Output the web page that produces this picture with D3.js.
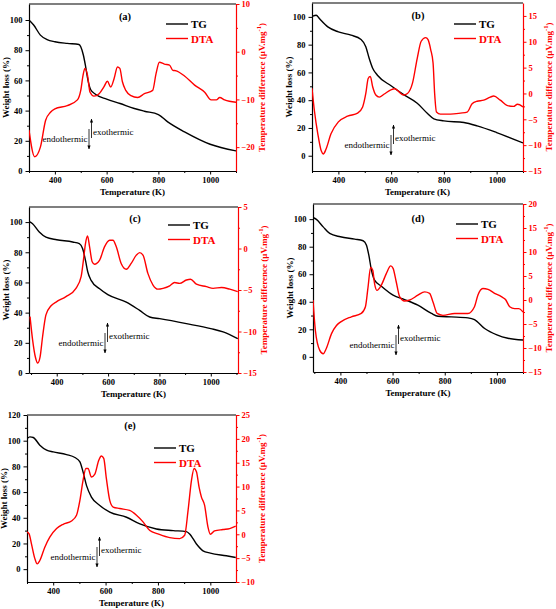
<!DOCTYPE html>
<html>
<head>
<meta charset="utf-8">
<script src="https://cdn.jsdelivr.net/npm/d3@7"></script>
<style>
  body { margin: 0; background: #fff; }
  svg { display: block; }
  text { font-family: "Liberation Serif", "Times New Roman", serif; }
</style>
</head>
<body>
<div id="chart"></div>
<script>
// tick values
const xTicks = [400, 600, 800, 1000];
const wTicks = [0, 20, 40, 60, 80, 100];
const wTicksE = [0, 20, 40, 60, 80, 100, 120];
const dtaTicksA = [-20, -10, 0, 10];
const dtaTicksB = [-15, -10, -5, 0, 5, 10, 15];
const dtaTicksC = [-15, -10, -5, 0, 5];
const dtaTicksD = [-15, -10, -5, 0, 5, 10, 15, 20];
const dtaTicksE = [-10, -5, 0, 5, 10, 15, 20, 25];

// [temperature K, weight loss %]
const tgA = [[300,100],[318,96.7],[344,90],[370,87],[400,85.6],[448,84.5],[493,83.8],[500,82.3],[510,76.8],[519,69],[528,60],[538,54],[558,50.7],[600,47.6],[652,44.7],[707,41.4],[746,39.6],[800,37.4],[836,32.5],[901,25.9],[1000,17.7],[1100,13.3]];
const tgB = [[303,100.5],[316,101.2],[328,98.8],[360,92.8],[400,89.2],[448,86.8],[486,83.7],[504,78.5],[517,70],[530,63],[548,58],[601,50.2],[649,43.8],[699,37.8],[737,30.6],[762,26.6],[800,25.1],[876,23.9],[926,21.5],[1000,16.7],[1100,9.2]];
const tgC = [[292,100.4],[306,98.9],[332,93.4],[358,90],[400,88.3],[462,86.8],[488,85.7],[501,82.3],[512,74.6],[521,66.9],[534,61.4],[567,55.8],[599,51.9],[671,47],[723,41.5],[762,37.1],[801,36],[905,32.7],[1000,29.4],[1048,27.2],[1105,22.7]];
const tgD = [[295,101.2],[308,99.8],[334,94.4],[359,89.6],[400,87.2],[455,85.5],[487,84.3],[500,81.1],[509,73.8],[519,63],[531,55.7],[557,51.3],[602,44.8],[646,41.6],[697,37.5],[749,31.5],[774,29.5],[825,29],[889,28.3],[914,27.1],[953,20.6],[1000,16],[1042,13.5],[1100,12.2]];
const tgE = [[301,101.7],[311,103],[324,102.5],[349,96.5],[375,92.6],[400,91.3],[451,89.2],[483,86.9],[502,83.5],[514,75.7],[527,65.2],[546,56.1],[578,49.6],[616,44.4],[680,40.4],[731,35.2],[794,31.3],[858,30],[908,29.2],[921,27.4],[947,19.6],[972,14.3],[1000,12.5],[1061,10.4],[1097,9.1]];

// [temperature K, temperature difference uV/mg]
const dtaA = [[300,-16.4],[322,-22],[344,-20],[364,-14.4],[383,-12.7],[400,-12],[448,-11.3],[487,-10.1],[500,-8.1],[509,-4.9],[516,-3.5],[526,-4.9],[536,-8.5],[551,-9.3],[571,-8.8],[590,-7.3],[603,-6.2],[616,-7.4],[629,-5.6],[642,-3.2],[651,-3.5],[661,-6.3],[674,-8.1],[694,-9.2],[720,-9.6],[746,-8.8],[778,-8.1],[791,-4.6],[804,-2.2],[823,-2.6],[843,-2.8],[856,-3.9],[869,-4.0],[901,-5.1],[940,-7],[979,-8.5],[1004,-10.1],[1024,-10.1],[1037,-9.6],[1056,-10.1],[1100,-10.6]];
const dtaB = [[300,1],[309,-3.3],[322,-7.8],[335,-11.1],[343,-11.7],[353,-10.8],[372,-7.8],[400,-5.5],[435,-4.4],[473,-3.8],[492,-2.6],[504,0],[513,2.9],[521,3.3],[530,1.3],[542,-0.3],[555,-0.7],[574,-0.1],[599,0.7],[614,0.9],[630,0.3],[647,-0.3],[662,0],[681,2],[699,6.8],[714,10.1],[731,10.8],[740,10.4],[750,8.5],[759,5.9],[765,0],[772,-3.6],[787,-4],[825,-4],[863,-3.8],[888,-3.6],[907,-2],[926,-1.5],[951,-1.3],[976,-0.7],[989,-0.5],[1014,-1.3],[1039,-2.3],[1064,-2.5],[1079,-2.1],[1100,-2.6]];
const dtaC = [[296,-8.2],[306,-11],[317,-13.1],[326,-13.8],[335,-13.1],[345,-10.6],[358,-8],[378,-6.9],[400,-6.4],[436,-5.8],[475,-4.8],[495,-3.4],[504,-1.4],[512,0.6],[520,1.5],[528,0.2],[538,-1.6],[547,-1.9],[567,-1.4],[586,0.2],[606,1.0],[619,1.0],[632,0.2],[651,-1.8],[671,-2.5],[690,-1.8],[710,-0.8],[723,-0.5],[736,-0.8],[755,-3],[775,-4.4],[794,-4.9],[814,-4.8],[840,-4.5],[859,-4.1],[879,-4.2],[905,-3.8],[921,-3.7],[944,-4.3],[983,-4.6],[1009,-4.8],[1042,-4.7],[1074,-4.9],[1105,-5.2]];
const dtaD = [[295,0],[304,-6.3],[321,-10.5],[334,-11.2],[346,-10.1],[366,-7],[385,-5.3],[400,-4.6],[442,-3.5],[480,-2.8],[496,-1.4],[506,2.7],[516,6.8],[524,6.2],[531,3.4],[540,2],[557,3.1],[576,5.5],[593,7.1],[602,6.6],[614,3.8],[627,0.7],[646,-0.2],[666,0],[697,1],[723,1.7],[742,1.4],[755,-0.4],[771,-2.8],[793,-3.2],[838,-2.8],[889,-2.8],[914,-1.4],[927,1],[946,2.4],[966,2.2],[991,1.4],[1017,0.7],[1033,0.1],[1049,-1.4],[1068,-1.8],[1084,-1.8],[1100,-2.5]];
const dtaE = [[300,0.5],[308,0.1],[317,-2],[330,-5.1],[339,-6.2],[349,-5.5],[368,-2.7],[387,-0.6],[413,1.2],[438,2.1],[470,2.8],[489,4],[502,7.1],[514,11.3],[525,13.8],[533,13.8],[546,12],[559,12.6],[574,15.5],[584,16.4],[593,15.9],[603,11.7],[616,7.1],[629,5.7],[654,5.4],[692,5],[718,4],[743,2.6],[769,0.8],[800,0.1],[845,-0.7],[883,-0.9],[902,-0.2],[915,5],[928,11.3],[938,13.8],[947,13.1],[957,9.9],[966,7.8],[978,6.1],[991,1.5],[1000,0],[1016,0.7],[1048,1],[1074,1.2],[1097,1.7]];

const panels = [
  { label: "(a)", tg: tgA, dta: dtaA, box: { l: 29, r: 236, t: 4, b: 171 }, xDom: [300, 1100], yDom: [0, 110.6], y2Dom: [-25, 10], yTicks: wTicks, y2Ticks: dtaTicksA, y2Minor: 5, title: [96, 12], legend: [137, 20], ann: [60, 115] },
  { label: "(b)", tg: tgB, dta: dtaB, box: { l: 312, r: 523, t: 3, b: 171 }, xDom: [300, 1100], yDom: [-11, 110], y2Dom: [-15, 17.5], yTicks: wTicks, y2Ticks: dtaTicksB, y2Minor: 2.5, title: [106, 12], legend: [142, 21], ann: [79, 122] },
  { label: "(c)", tg: tgC, dta: dtaC, box: { l: 29, r: 238, t: 207, b: 373 }, xDom: [292, 1106], yDom: [0, 110], y2Dom: [-15, 5], yTicks: wTicks, y2Ticks: dtaTicksC, y2Minor: 2.5, title: [106, 11], legend: [139, 18], ann: [76, 116] },
  { label: "(d)", tg: tgD, dta: dtaD, box: { l: 313, r: 523, t: 204, b: 372 }, xDom: [295, 1100], yDom: [-11, 111], y2Dom: [-15, 20], yTicks: wTicks, y2Ticks: dtaTicksD, y2Minor: 2.5, title: [105, 14], legend: [143, 20], ann: [83, 121] },
  { label: "(e)", tg: tgE, dta: dtaE, box: { l: 27, r: 236, t: 415, b: 582 }, xDom: [300, 1098], yDom: [-10, 120], y2Dom: [-10, 25], yTicks: wTicksE, y2Ticks: dtaTicksE, y2Minor: 2.5, title: [103, 10], legend: [127, 33], ann: [70, 122] }
];

const W = 556, H = 609;
const svg = d3.select("#chart").append("svg")
  .attr("width", W)
  .attr("height", H)
  .attr("viewBox", `0 0 ${W} ${H}`);

const defs = svg.append("defs");
defs.append("marker")
  .attr("id", "arrow")
  .attr("viewBox", "0 0 10 10")
  .attr("refX", 9).attr("refY", 5)
  .attr("markerWidth", 5).attr("markerHeight", 5)
  .attr("orient", "auto")
  .append("path")
  .attr("d", "M0,1 L10,5 L0,9 Z")
  .attr("fill", "#000");

const RED = "#ff0000";

panels.forEach((p, i) => {
  const w = p.box.r - p.box.l;
  const h = p.box.b - p.box.t;
  const g = svg.append("g").attr("transform", `translate(${p.box.l},${p.box.t})`);

  const x = d3.scaleLinear().domain(p.xDom).range([0, w]);
  const y = d3.scaleLinear().domain(p.yDom).range([h, 0]);
  const y2 = d3.scaleLinear().domain(p.y2Dom).range([h, 0]);

  defs.append("clipPath").attr("id", `clip${i}`)
    .append("rect").attr("width", w).attr("height", h);

  // minor ticks
  const xMinor = d3.range(300, 1101, 100).filter(v => v >= p.xDom[0] && v <= p.xDom[1] && !xTicks.includes(v));
  const yMinor = d3.range(p.yTicks[0] + 10, p.yTicks[p.yTicks.length - 1], 20);
  const y2Minor = d3.range(p.y2Ticks[0] + p.y2Minor, p.y2Ticks[p.y2Ticks.length - 1], p.y2Minor * 2);

  const styleAxis = (sel, color) => {
    sel.selectAll("path").attr("stroke", color).attr("stroke-width", 1.2);
    sel.selectAll("line").attr("stroke", color).attr("stroke-width", 1);
    sel.selectAll("text")
      .attr("fill", color)
      .style("font-size", "8.5px")
      .style("font-weight", "bold")
      .style("font-family", "'Liberation Serif', serif");
  };

  // bottom
  g.append("g").attr("transform", `translate(0,${h})`)
    .call(d3.axisBottom(x).tickValues(xMinor).tickSize(2).tickFormat(""))
    .call(s => s.select(".domain").remove())
    .call(s => styleAxis(s, "#000"));
  g.append("g").attr("transform", `translate(0,${h})`)
    .call(d3.axisBottom(x).tickValues(xTicks).tickSize(3.5).tickSizeOuter(0).tickPadding(2).tickFormat(d3.format("d")))
    .call(s => styleAxis(s, "#000"));

  // left
  g.append("g")
    .call(d3.axisLeft(y).tickValues(yMinor).tickSize(2).tickFormat(""))
    .call(s => s.select(".domain").remove())
    .call(s => styleAxis(s, "#000"));
  g.append("g")
    .call(d3.axisLeft(y).tickValues(p.yTicks).tickSize(3.5).tickSizeOuter(0).tickPadding(3).tickFormat(d3.format("d")))
    .call(s => styleAxis(s, "#000"));

  // right
  g.append("g").attr("transform", `translate(${w},0)`)
    .call(d3.axisRight(y2).tickValues(y2Minor).tickSize(2).tickFormat(""))
    .call(s => s.select(".domain").remove())
    .call(s => styleAxis(s, RED));
  g.append("g").attr("transform", `translate(${w},0)`)
    .call(d3.axisRight(y2).tickValues(p.y2Ticks).tickSize(3.5).tickSizeOuter(0).tickPadding(2).tickFormat(d3.format("d")))
    .call(s => styleAxis(s, RED));

  // top frame
  g.append("line")
    .attr("x1", 0).attr("x2", w).attr("y1", 0).attr("y2", 0)
    .attr("stroke", "#000").attr("stroke-width", 1.2);

  // curves
  const plot = g.append("g").attr("clip-path", `url(#clip${i})`);
  const lineTG = d3.line().x(d => x(d[0])).y(d => y(d[1])).curve(d3.curveMonotoneX);
  const lineDTA = d3.line().x(d => x(d[0])).y(d => y2(d[1])).curve(d3.curveMonotoneX);

  plot.append("path").datum(p.tg)
    .attr("d", lineTG)
    .attr("fill", "none").attr("stroke", "#000").attr("stroke-width", 1.4);
  plot.append("path").datum(p.dta)
    .attr("d", lineDTA)
    .attr("fill", "none").attr("stroke", RED).attr("stroke-width", 1.4);

  // panel label
  g.append("text")
    .attr("x", p.title[0]).attr("y", p.title[1])
    .attr("text-anchor", "middle").attr("dominant-baseline", "central")
    .style("font-size", "10.5px").style("font-weight", "bold")
    .text(p.label);

  // legend
  const legend = g.append("g").attr("transform", `translate(${p.legend[0]},${p.legend[1]})`);
  [["TG", "#000"], ["DTA", RED]].forEach(([name, c], k) => {
    legend.append("line")
      .attr("x1", 0).attr("x2", 22).attr("y1", k * 14.5).attr("y2", k * 14.5)
      .attr("stroke", c).attr("stroke-width", 1.4);
    legend.append("text")
      .attr("x", 25).attr("y", k * 14.5)
      .attr("dominant-baseline", "central")
      .attr("fill", c)
      .style("font-size", "11px").style("font-weight", "bold")
      .text(name);
  });

  // endothermic / exothermic annotation
  const ax = p.ann[0], ay = p.ann[1];
  const ann = g.append("g");
  ann.append("line")
    .attr("x1", ax).attr("x2", ax).attr("y1", ay + 10).attr("y2", ay + 30)
    .attr("stroke", "#000").attr("stroke-width", 0.8)
    .attr("marker-end", "url(#arrow)");
  ann.append("line")
    .attr("x1", ax + 2.5).attr("x2", ax + 2.5).attr("y1", ay + 19).attr("y2", ay)
    .attr("stroke", "#000").attr("stroke-width", 0.8)
    .attr("marker-end", "url(#arrow)");
  ann.append("text")
    .attr("x", ax - 1.5).attr("y", ay + 20)
    .attr("text-anchor", "end").attr("dominant-baseline", "central")
    .style("font-size", "9px")
    .text("endothermic");
  ann.append("text")
    .attr("x", ax + 4).attr("y", ay + 13)
    .attr("dominant-baseline", "central")
    .style("font-size", "9px")
    .text("exothermic");

  // axis titles
  g.append("text")
    .attr("x", w / 2).attr("y", h + 21)
    .attr("text-anchor", "middle").attr("dominant-baseline", "central")
    .style("font-size", "9px").style("font-weight", "bold")
    .text("Temperature (K)");

  g.append("text")
    .attr("transform", `translate(${-23},${h / 2}) rotate(-90)`)
    .attr("text-anchor", "middle").attr("dominant-baseline", "central")
    .style("font-size", "9px").style("font-weight", "bold")
    .text("Weight loss (%)");

  const rt = g.append("text")
    .attr("transform", `translate(${w + 26},${h / 2}) rotate(-90)`)
    .attr("text-anchor", "middle").attr("dominant-baseline", "central")
    .attr("fill", RED)
    .style("font-size", "9px").style("font-weight", "bold");
  rt.append("tspan").text("Temperature difference (μV.mg");
  rt.append("tspan").attr("baseline-shift", "super").style("font-size", "6.5px").text("-1");
  rt.append("tspan").text(")");
});
</script>
</body>
</html>
